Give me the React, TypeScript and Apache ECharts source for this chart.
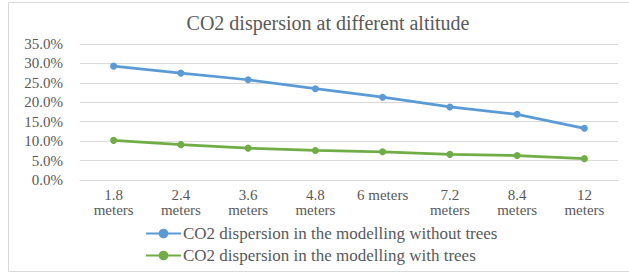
import React, { useEffect, useRef } from "react";
import * as echarts from "echarts";

const categories = [
  "1.8\nmeters",
  "2.4\nmeters",
  "3.6\nmeters",
  "4.8\nmeters",
  "6 meters",
  "7.2\nmeters",
  "8.4\nmeters",
  "12\nmeters",
];
const withoutTrees = [0.293, 0.275, 0.258, 0.235, 0.213, 0.188, 0.169, 0.133];
const withTrees = [0.102, 0.091, 0.082, 0.076, 0.0725, 0.066, 0.063, 0.055];
const seriesNames = [
  "CO2 dispersion in the modelling without trees",
  "CO2 dispersion in the modelling with trees",
];
const titleText = "CO2 dispersion at different altitude";

const FONT = "'Liberation Serif', 'Times New Roman', serif";
const TEXT = "#595959";

export default function App() {
  const ref = useRef<HTMLDivElement>(null);
  useEffect(() => {
    if (!ref.current) return;
    const chart = echarts.init(ref.current, undefined, { renderer: "svg" });
    chart.setOption({
      animation: false,
      backgroundColor: "#ffffff",
      title: {
        text: titleText,
        left: 323,
        textAlign: "center",
        top: 8,
        textStyle: { fontFamily: FONT, fontSize: 20, fontWeight: "normal", color: TEXT },
      },
      graphic: [
        {
          type: "rect",
          shape: { x: 8.5, y: 2.5, width: 640, height: 269 },
          style: { fill: "none", stroke: "#D9D9D9", lineWidth: 1 },
          silent: true,
        },
      ],
      grid: { left: 80, right: 11, top: 44, bottom: 96, containLabel: false },
      xAxis: {
        type: "category",
        data: categories,
        boundaryGap: true,
        axisLine: { show: true, lineStyle: { color: "#D9D9D9", width: 1 } },
        axisTick: { show: false },
        axisLabel: {
          interval: 0,
          margin: 7,
          fontFamily: FONT,
          fontSize: 15,
          lineHeight: 15,
          color: TEXT,
        },
      },
      yAxis: {
        type: "value",
        min: 0,
        max: 0.35,
        interval: 0.05,
        axisLine: { show: false },
        axisTick: { show: false },
        splitLine: { lineStyle: { color: "#D9D9D9", width: 1 } },
        axisLabel: {
          margin: 17,
          fontFamily: FONT,
          fontSize: 15,
          color: TEXT,
          formatter: (v: number) => (v * 100).toFixed(1) + "%",
        },
      },
      legend: {
        orient: "vertical",
        left: 140,
        top: 220,
        itemWidth: 35,
        itemHeight: 12,
        itemGap: 5,
        textStyle: { fontFamily: FONT, fontSize: 17, color: TEXT, padding: [0, 0, 0, -3] },
        data: seriesNames,
      },
      series: [
        {
          name: seriesNames[0],
          type: "line",
          data: withoutTrees,
          symbol: "circle",
          symbolSize: 7,
          lineStyle: { color: "#5B9BD5", width: 2.75 },
          itemStyle: { color: "#5B9BD5" },
        },
        {
          name: seriesNames[1],
          type: "line",
          data: withTrees,
          symbol: "circle",
          symbolSize: 7,
          lineStyle: { color: "#70AD47", width: 2.75 },
          itemStyle: { color: "#70AD47" },
        },
      ],
    });
    return () => chart.dispose();
  }, []);
  return (
    <div
      ref={ref}
      style={{ position: "absolute", left: 0, top: 0, width: 629, height: 276 }}
    />
  );
}
